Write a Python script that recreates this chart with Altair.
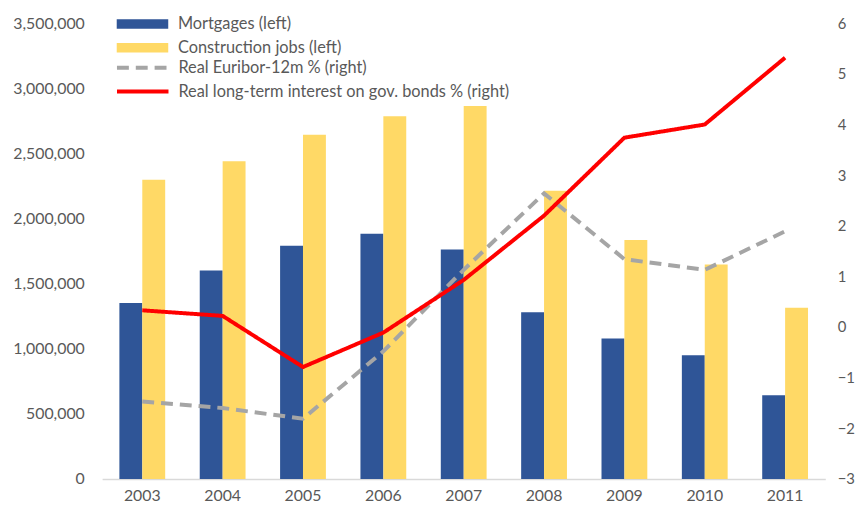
import altair as alt
import pandas as pd

years = ["2003", "2004", "2005", "2006", "2007", "2008", "2009", "2010", "2011"]
mortgages = [1352000, 1600000, 1790000, 1884000, 1763000, 1280000, 1078000, 949000, 642000]
construction = [2298000, 2440000, 2643000, 2785000, 2865000, 2214000, 1836000, 1646000, 1314000]
euribor = [-1.47, -1.60, -1.81, -0.48, 1.13, 2.64, 1.34, 1.13, 1.89]
longterm = [0.33, 0.22, -0.79, -0.11, 0.93, 2.20, 3.74, 4.00, 5.32]

bar_names = ["Mortgages (left)", "Construction jobs (left)"]
line_names = ["Real Euribor-12m % (right)", "Real long-term interest on gov. bonds % (right)"]

bars_df = pd.DataFrame(
    [{"year": y, "bar": bar_names[0], "value": v} for y, v in zip(years, mortgages)]
    + [{"year": y, "bar": bar_names[1], "value": v} for y, v in zip(years, construction)]
)
lines_df = pd.DataFrame(
    [{"year": y, "line": line_names[0], "pct": v} for y, v in zip(years, euribor)]
    + [{"year": y, "line": line_names[1], "pct": v} for y, v in zip(years, longterm)]
)

FONT = "Lato"
TXT = "#595959"

xscale = alt.Scale(type="band", paddingInner=0.43, paddingOuter=0.215)
xaxis = alt.Axis(title=None, labelAngle=0, ticks=False, domain=True, domainColor="#D9D9D9",
                 domainWidth=1.5, labelPadding=9, labelFont=FONT, labelFontSize=16,
                 labelColor=TXT)

legend_common = dict(
    title=None, orient="none", padding=0, labelFont=FONT, labelFontSize=16.5,
    labelColor=TXT, labelOffset=27.5, rowPadding=7, symbolSize=169, labelLimit=500,
)

bars = alt.Chart(bars_df).mark_bar().encode(
    x=alt.X("year:N", scale=xscale, axis=xaxis, sort=years),
    xOffset=alt.XOffset("bar:N", sort=bar_names, scale=alt.Scale(paddingInner=0, paddingOuter=0)),
    y=alt.Y("value:Q", scale=alt.Scale(domain=[0, 3500000], nice=False),
            axis=alt.Axis(title=None, grid=False, domain=False, ticks=False, format=",.0f",
                          values=[0, 500000, 1000000, 1500000, 2000000, 2500000, 3000000, 3500000],
                          labelPadding=18, labelFont=FONT, labelFontSize=16, labelColor=TXT)),
    fill=alt.Fill("bar:N", sort=bar_names,
                  scale=alt.Scale(domain=bar_names, range=["#2F5597", "#FFD966"]),
                  legend=alt.Legend(legendX=32.5, legendY=-7.5,
                                    symbolType="M-4,-0.75H4V0.75H-4Z",
                                    symbolStrokeWidth=0, **legend_common)),
)

line_legend = alt.Legend(legendX=32.5, legendY=36.5, symbolType="M-4,0H4",
                         symbolStrokeWidth=4, symbolFillColor="transparent", **legend_common)

lines = alt.Chart(lines_df).mark_line(strokeWidth=4, strokeCap="butt").encode(
    x=alt.X("year:N", scale=xscale, axis=xaxis, sort=years),
    y=alt.Y("pct:Q", scale=alt.Scale(domain=[-3, 6], nice=False),
            axis=alt.Axis(title=None, orient="right", grid=False, domain=False, ticks=False,
                          values=[-3, -2, -1, 0, 1, 2, 3, 4, 5, 6], labelPadding=12,
                          labelFont=FONT, labelFontSize=15, labelColor=TXT)),
    stroke=alt.Stroke("line:N", sort=line_names,
                      scale=alt.Scale(domain=line_names, range=["#A5A5A5", "#FF0000"]),
                      legend=line_legend),
    strokeDash=alt.StrokeDash("line:N", sort=line_names,
                              scale=alt.Scale(domain=line_names, range=[[12, 7], [1, 0]]),
                              legend=line_legend),
    order=alt.Order("year:N"),
)

chart = alt.layer(bars, lines).resolve_scale(y="independent").properties(
    width=730, height=460,
    autosize=alt.AutoSizeParams(type="none"),
    padding={"left": 95, "top": 13, "right": 31, "bottom": 30},
).configure_view(stroke=None)

chart.save("out.html", embed_options={"renderer": "svg", "actions": False})
